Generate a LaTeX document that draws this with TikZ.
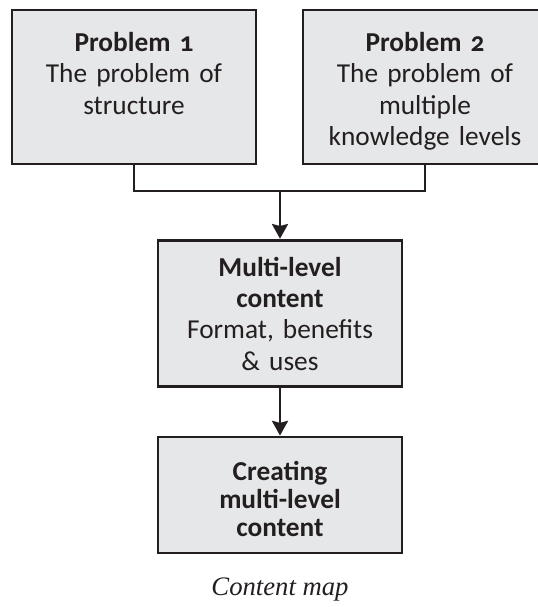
\documentclass[tikz,border=0pt]{standalone}
\usepackage{fontspec}
\setmainfont{Carlito}[Numbers=OldStyle]
\newfontfamily\capfont{Liberation Serif}
\usepackage{tikz}
\usetikzlibrary{arrows.meta}

\definecolor{boxgray}{HTML}{E6E7E8}
\definecolor{inkline}{HTML}{231F20}
\newcommand{\topstrut}{\rule{0pt}{21pt}}

\begin{document}
\begin{tikzpicture}[x=0.75pt,y=-0.75pt,
  every node/.style={font=\fontsize{20.5}{23.5}\selectfont, text=inkline},
  mapbox/.style={draw=inkline, fill=boxgray, line width=2.2pt, align=center,
    minimum width=183pt, text width=170pt, inner sep=0pt},
  maparrow/.style={draw=inkline, line width=2pt,
    -{Stealth[length=11pt,width=12pt,inset=1.5pt]}}
  ]
  \useasboundingbox (0,0) rectangle (537,607);
  \node[mapbox, minimum height=115.5pt] (prob1) at (134,87)
    {{\bfseries\topstrut Problem 1}\\The problem of\\structure\\\rule[-4pt]{0pt}{4pt}};
  \node[mapbox, minimum height=115.5pt] (prob2) at (425,87)
    {{\bfseries\topstrut Problem 2}\\The problem of\\multiple\\knowledge levels};
  \node[mapbox, minimum height=110pt] (multi) at (280,313.5)
    {{\bfseries Multi-level\\content}\\Format, benefits\\\& uses};
  \node[mapbox, minimum height=87pt, font=\fontsize{20.5}{21}\selectfont\bfseries] (create) at (280,495)
    {\topstrut Creating\\multi-level\\content};
  \node[anchor=base, font=\capfont\itshape\fontsize{20}{23}\selectfont] (caption) at (280,595) {Content map};
  \coordinate (join) at (280,191);
  \draw[draw=inkline, line width=2pt] (prob1.south) |- (join) -| (prob2.south);
  \draw[maparrow] (join) -- (multi.north);
  \draw[maparrow] (multi) -- (create);
\end{tikzpicture}
\end{document}
